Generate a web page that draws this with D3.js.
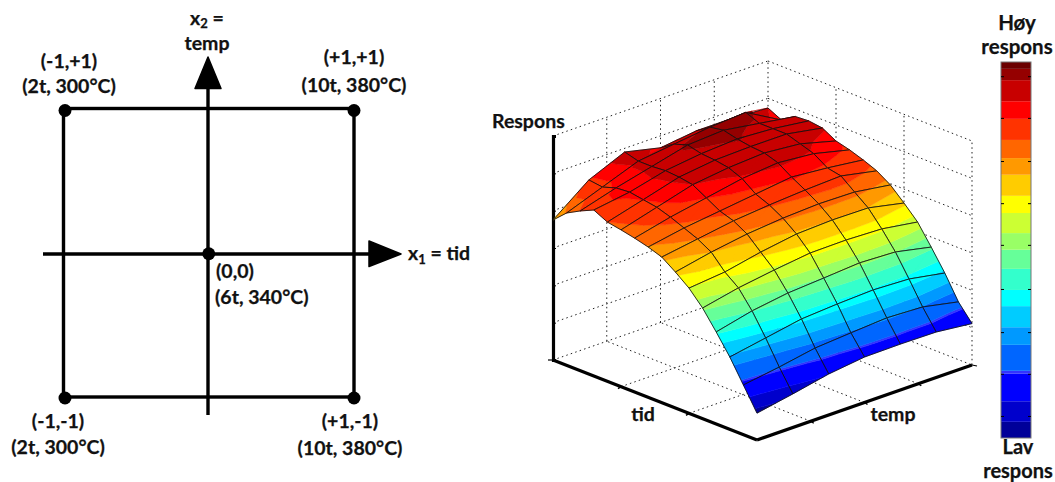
<!DOCTYPE html>
<html><head><meta charset="utf-8">
<script src="https://cdnjs.cloudflare.com/ajax/libs/d3/7.8.5/d3.min.js"></script>
<style>
html,body{margin:0;padding:0;background:#fff;overflow:hidden}
svg{display:block}
text{font-family:Lato,"Noto Sans",sans-serif;font-weight:700;fill:#111;stroke:#111;stroke-width:.25}
</style></head><body>
<svg id="c" width="1055" height="482"></svg>
<script>
// ---------- design points (left diagram) ----------
const designX1 = [-1, 1, 0, -1, 1];
const designX2 = [1, 1, 0, -1, -1];

// ---------- response surface: rows along tid (0..15), columns along temp (0..6) ----------
const tidSteps = d3.range(16);
const tempSteps = d3.range(7);
const response = [
  [.120,.150,.183,.203,.205,.203,.185],
  [.222,.246,.275,.287,.298,.291,.258],
  [.323,.352,.381,.392,.399,.392,.363],
  [.411,.449,.473,.484,.496,.489,.455],
  [.494,.528,.552,.572,.574,.568,.543],
  [.559,.575,.608,.633,.640,.638,.604],
  [.607,.640,.665,.680,.688,.685,.661],
  [.650,.675,.700,.715,.726,.733,.700],
  [.671,.700,.720,.740,.760,.745,.725],
  [.687,.725,.755,.785,.800,.785,.746],
  [.700,.745,.790,.810,.820,.805,.762],
  [.711,.755,.800,.820,.825,.825,.796],
  [.741,.765,.805,.825,.835,.825,.804],
  [.713,.760,.800,.840,.850,.825,.800],
  [.680,.740,.800,.820,.840,.850,.760],
  [.625,.748,.817,.780,.800,.800,.790]
];

// ---------- colour bands ----------
const bandEdges = [.103,.136,.178,.234,.240,.293,.329,.372,.405,.448,.487,.521,.562,.597,.640,.674,.711,.754,.790,.833,.856,.870];
const bandColors = ["#000099","#0000cc","#0000ff","#3333ff","#0066ff","#0099ff","#00ccff","#00ffff","#33ffcc","#66ff99","#99ff66","#ccff33","#ffff00","#ffcc00","#ff9900","#ff6600","#ff3300","#ff0000","#c80000","#950000","#6b0000"];
const colorbarTicks = [.148,.234,.319,.407,.497,.582,.668,.756,.841];

// ---------- axis ticks ----------
const zTicks = [0,1,2,3,4,5,6];
const tidTicks = [1/3,2/3];
const tempTicks = [.25,.5,.75];

const svg = d3.select("#c");

// ========== left diagram ==========
const x1 = d3.scaleLinear([-1,1],[63.5,354]);
const x2 = d3.scaleLinear([-1,1],[397,108.5]);
const L = svg.append("g");
const line3 = (a,b,c,d)=>L.append("line").attr("x1",a).attr("y1",b).attr("x2",c).attr("y2",d).attr("stroke","#000").attr("stroke-width",3.4);
L.append("rect").attr("x",x1(-1)).attr("y",x2(1)).attr("width",x1(1)-x1(-1)).attr("height",x2(-1)-x2(1))
  .attr("fill","none").attr("stroke","#000").attr("stroke-width",3.4);
line3(43,254,375,254);
line3(208,415,208,80);
L.append("path").attr("d","M208,57L221,88.5L195,88.5Z").attr("fill","#000").attr("stroke","#000").attr("stroke-width",1.5).attr("stroke-linejoin","round");
L.append("path").attr("d","M369,241L401,254L369,266.5Z").attr("fill","#000").attr("stroke","#000").attr("stroke-width",1.5).attr("stroke-linejoin","round");
L.selectAll("circle").data(designX1).join("circle")
  .attr("cx",(d)=>x1(d)+(d<0?1.5:0)).attr("cy",(d,i)=>x2(designX2[i])+(designX2[i]>0?2:1))
  .attr("r",6.5).attr("fill","#000");

function label(t,x,y,anchor="middle",size=19.5){
  return svg.append("text").attr("x",x).attr("y",y).attr("text-anchor",anchor).attr("font-size",size).text(t);
}
label("(-1,+1)",69,68); label("(2t, 300°C)",69,93);
label("(+1,+1)",354,64); label("(10t, 380°C)",354,92);
label("(0,0)",216,278,"start"); label("(6t, 340°C)",215,304,"start");
label("(-1,-1)",58,428); label("(2t, 300°C)",58,453.5);
label("(+1,-1)",350,428); label("(10t, 380°C)",350,455);
const xa=svg.append("text").attr("x",207).attr("y",25).attr("text-anchor","middle").attr("font-size",19.5);
xa.append("tspan").text("x");xa.append("tspan").attr("font-size",13).attr("dy",3).text("2");xa.append("tspan").attr("dy",-3).text(" =");
label("temp",207,50);
const xb=svg.append("text").attr("x",408).attr("y",260).attr("font-size",19.5);
xb.append("tspan").text("x");xb.append("tspan").attr("font-size",13).attr("dy",4).text("1");xb.append("tspan").attr("dy",-4).text(" = tid");

// ========== 3D surface ==========
const uS = d3.scaleLinear([0,15],[0,1]);
const vS = d3.scaleLinear([0,6],[0,1]);
const O=[757,440], UV=[-204,-80], VV=[215,-75], ZH=224;
const proj=(u,v,z)=>[O[0]+UV[0]*u+VV[0]*v, O[1]+UV[1]*u+VV[1]*v-ZH*z];
const G=svg.append("g");
const dotted=(a,b)=>G.append("line").attr("x1",a[0]).attr("y1",a[1]).attr("x2",b[0]).attr("y2",b[1])
  .attr("stroke","#222").attr("stroke-width",1).attr("stroke-dasharray","1.5,3.2");
// walls + floor
zTicks.forEach(k=>{const z=k/6;
  dotted(proj(1,0,z),proj(1,1,z));
  dotted(proj(1,1,z),proj(0,1,z));
});
[.25,.5,.75,1].forEach(v=>dotted(proj(1,v,0),proj(1,v,1)));
[1/3,2/3,0].forEach(u=>dotted(proj(u,1,0),proj(u,1,1)));
tidTicks.forEach(u=>dotted(proj(u,0,0),proj(u,1,0)));
tempTicks.forEach(v=>dotted(proj(0,v,0),proj(1,v,0)));

// axes
const heavy=(a,b,w)=>G.append("line").attr("x1",a[0]).attr("y1",a[1]).attr("x2",b[0]).attr("y2",b[1]).attr("stroke","#000").attr("stroke-width",w);
const zScale=d3.scaleLinear([0,6],[O[1]+UV[1]+0,O[1]+UV[1]-ZH]);
G.append("g").attr("transform",`translate(${proj(1,0,0)[0]},0)`)
  .call(d3.axisRight(zScale).tickValues(zTicks).tickSize(3).tickFormat(""))
  .call(g=>{g.select(".domain").attr("stroke-width",3.2).attr("stroke","#000");g.selectAll(".tick line").attr("stroke","#000")});
heavy(proj(1,0,0),proj(0,0,0),3.2);
heavy(proj(0,0,0),proj(0,1,0),3.2);
tidTicks.forEach(u=>{const p=proj(u,0,0);heavy(p,[p[0]-3,p[1]+2],1.5);});
tempTicks.forEach(v=>{const p=proj(0,v,0);heavy(p,[p[0]+3,p[1]+2],1.5);});
heavy([proj(0,1,0)[0],proj(0,1,0)[1]],[proj(0,1,0)[0]+5,proj(0,1,0)[1]+1],1.2);
heavy([proj(1,0,0)[0],proj(1,0,0)[1]],[proj(1,0,0)[0]-5,proj(1,0,0)[1]],1.2);

// clip a polygon with vertices [x,y,z] to z >= a or z <= b
function clip(poly,lim,keepAbove){
  const out=[];const inside=p=>keepAbove?p[2]>=lim:p[2]<=lim;
  for(let i=0;i<poly.length;i++){
    const A=poly[i],B=poly[(i+1)%poly.length],ia=inside(A),ib=inside(B);
    if(ia) out.push(A);
    if(ia!==ib){const t=(lim-A[2])/(B[2]-A[2]);
      out.push([A[0]+t*(B[0]-A[0]),A[1]+t*(B[1]-A[1]),lim]);}
  }
  return out;
}
const pt=(i,j)=>{const z=response[i][j];const p=proj(uS(i),vS(j),z);return [p[0],p[1],z];};
const cells=[];
tidSteps.slice(0,-1).forEach(i=>tempSteps.slice(0,-1).forEach(j=>cells.push([i,j])));
cells.sort((a,b)=>(uS(b[0])+vS(b[1]))-(uS(a[0])+vS(a[1])));
const S=svg.append("g");
cells.forEach(([i,j])=>{
  const a=pt(i,j),b=pt(i+1,j),c=pt(i+1,j+1),d=pt(i,j+1);
  const paths=bandColors.map(()=>"");
  [[a,b,c],[a,c,d]].forEach(tri=>{
    bandColors.forEach((col,k)=>{
      let poly=tri;
      if(k>0) poly=clip(poly,bandEdges[k],true);
      if(poly.length&&k<bandColors.length-1) poly=clip(poly,bandEdges[k+1],false);
      if(poly.length>2) paths[k]+="M"+poly.map(p=>p[0].toFixed(2)+","+p[1].toFixed(2)).join("L")+"Z";
    });
  });
  paths.forEach((dd,k)=>{ if(dd) S.append("path").attr("d",dd).attr("fill",bandColors[k]).attr("stroke",bandColors[k]).attr("stroke-width",.5).attr("stroke-linejoin","round");});
  S.append("path").attr("d","M"+[a,b,c,d].map(p=>p[0].toFixed(2)+","+p[1].toFixed(2)).join("L")+"Z")
    .attr("fill","none").attr("stroke","#111").attr("stroke-width",1).attr("stroke-opacity",.85);
});

label("Respons",492,128,"start");
label("tid",643,421);
label("temp",893,421);

// ========== colour bar ==========
const cb=d3.scaleLinear([.103,.870],[438,62]);
const CB=svg.append("g");
bandColors.forEach((c,k)=>CB.append("rect").attr("x",1001).attr("width",30)
  .attr("y",cb(bandEdges[k+1])).attr("height",cb(bandEdges[k])-cb(bandEdges[k+1])).attr("fill",c));
CB.append("rect").attr("x",1001).attr("y",62).attr("width",30).attr("height",376).attr("fill","none").attr("stroke","#777").attr("stroke-width",1);
CB.append("g").attr("transform","translate(1001,0)").call(d3.axisRight(cb).tickValues(colorbarTicks).tickSize(3).tickFormat(""))
  .call(g=>{g.select(".domain").remove();g.selectAll(".tick line").attr("stroke","#000")});
CB.append("g").attr("transform","translate(1031,0)").call(d3.axisLeft(cb).tickValues(colorbarTicks).tickSize(3).tickFormat(""))
  .call(g=>{g.select(".domain").remove();g.selectAll(".tick line").attr("stroke","#000")});
label("Høy",1017,30,"middle",20.5);
label("respons",1017,54,"middle",20.5);
label("Lav",1018,454,"middle",20);
label("respons",1018,478,"middle",20);
</script>
</body></html>
